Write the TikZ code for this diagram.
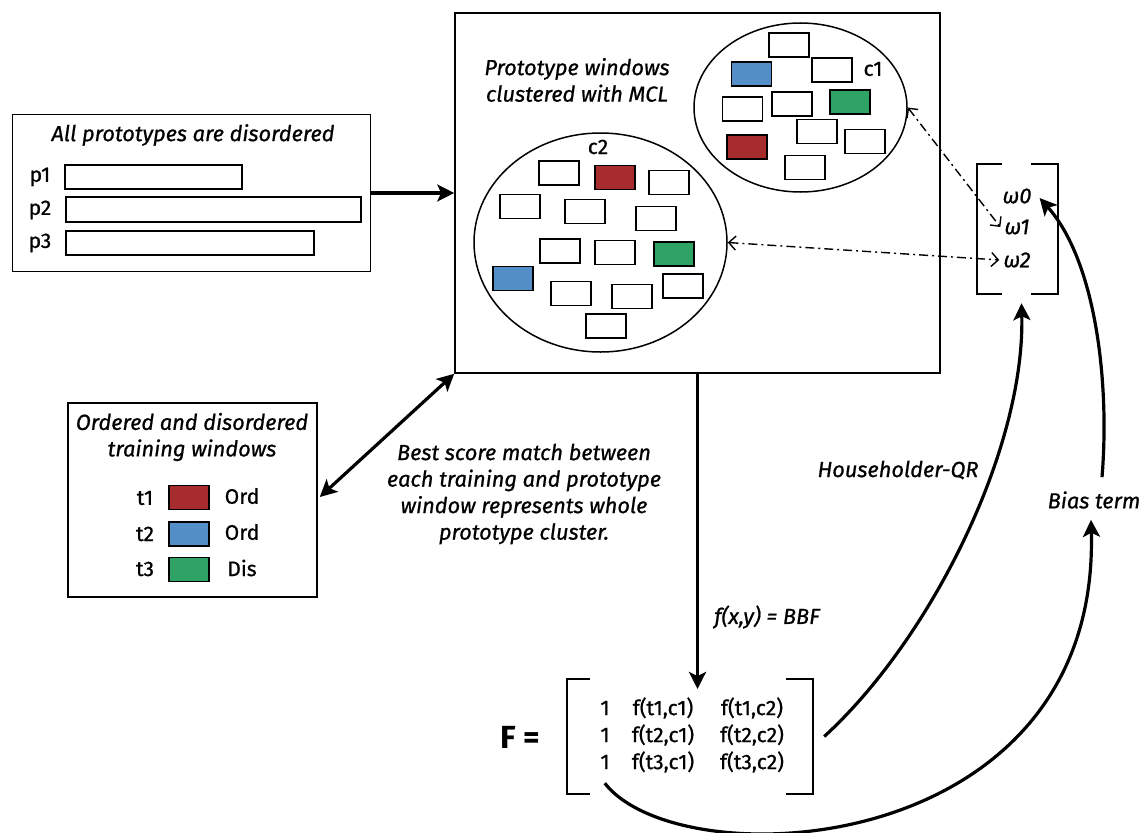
\documentclass[tikz,border=0pt]{standalone}
\usepackage{fontspec}
\setmainfont{Fira Sans}[UprightFeatures={FakeBold=0.8},ItalicFeatures={FakeBold=0.8}]
\usetikzlibrary{arrows.meta,shapes.geometric,calc}
\definecolor{ordred}{RGB}{166,44,46}
\definecolor{ordblue}{RGB}{84,142,199}
\definecolor{disgreen}{RGB}{47,163,102}
\newcommand{\txtsize}[2]{\fontsize{#1}{#2}\selectfont}
\begin{document}
\begin{tikzpicture}[x=1pt,y=-1pt,
  panel/.style={draw,line width=1.6pt,inner sep=0pt},
  winbox/.style={draw,line width=1.5pt,minimum width=40pt,minimum height=24pt,inner sep=0pt},
  protobar/.style={draw,line width=1.3pt,inner sep=0pt},
  cluster/.style={draw,ellipse,line width=1.5pt,inner sep=0pt},
  plain/.style={inner sep=0pt,font=\txtsize{21}{27}},
  note/.style={inner sep=0pt,font=\txtsize{21.8}{26.5}\itshape,align=center},
  bigarrow/.style={line width=3.2pt,-{Stealth[length=17pt,width=17pt,inset=4pt]}},
  linkarrow/.style={line width=1.4pt,dash pattern=on 9pt off 4pt on 2pt off 4pt,
    {Straight Barb[length=7pt,width=14pt]}-{Straight Barb[length=7pt,width=14pt]}},
]
\useasboundingbox (0,0) rectangle (1142,832);

% ---- prototypes panel ----
\node[panel,minimum width=358pt,minimum height=157pt] (protos) at (191.5,193) {};
\node[note] (protostitle) at (193,135) {All prototypes are disordered};
\node[protobar,minimum width=177pt,minimum height=24pt] (bar1) at (153.5,177) {};
\node[protobar,minimum width=295pt,minimum height=25pt] (bar2) at (213.5,209.5) {};
\node[protobar,minimum width=248pt,minimum height=24pt] (bar3) at (190,243) {};
\node[plain] (p1) at (40,177) {p1};
\node[plain] (p2) at (40,210) {p2};
\node[plain] (p3) at (40,243) {p3};

% ---- clustering panel ----
\node[panel,minimum width=485pt,minimum height=360pt] (main) at (697.5,193) {};
\node[note] (mcl) at (577,80) {Prototype windows\\clustered with MCL};
\node[cluster,minimum width=213pt,minimum height=169pt] (c1) at (800.5,107.5) {};
\node[cluster,minimum width=253pt,minimum height=219pt] (c2) at (600.5,242.5) {};
\node[plain] (c1lbl) at (873,69) {c1};
\node[plain] (c2lbl) at (598,147) {c2};
\foreach \x/\y/\c/\n in {
  789/45/white/ca1, 751.5/74/ordblue/ca2, 832/70/white/ca3, 742.5/109/white/ca4,
  792/104/white/ca5, 850/102/disgreen/ca6, 817/131.5/white/ca7, 865/141.5/white/ca8,
  747/147/ordred/ca9, 805/167.5/white/ca10}
  \node[winbox,fill=\c] (\n) at (\x,\y) {};
\foreach \x/\y/\c/\n in {
  559/173/white/cb1, 615/177.5/ordred/cb2, 669/182.5/white/cb3, 520/206.5/white/cb4,
  585/211.5/white/cb5, 656/218.5/white/cb6, 560/251/white/cb7, 615/252.5/white/cb8,
  674/254/disgreen/cb9, 513/278.5/ordblue/cb10, 571/293.5/white/cb11,
  632/296.5/white/cb12, 683/286/white/cb13, 606/326/white/cb14}
  \node[winbox,fill=\c] (\n) at (\x,\y) {};

% ---- weight vector ----
\node[minimum width=81pt,minimum height=130pt,inner sep=0pt] (wvec) at (1017.5,229) {};
\draw[line width=1.6pt] ($(wvec.north west)+(25,0)$) -- (wvec.north west)
  -- (wvec.south west) -- ++(25,0);
\draw[line width=1.6pt] ($(wvec.north east)+(-27,0)$) -- (wvec.north east)
  -- (wvec.south east) -- ++(-27,0);
\node[note,inner sep=4pt] (w0) at (1017,196) {ω0};
\node[note,inner sep=4pt] (w1) at (1017,227) {ω1};
\node[note,inner sep=4pt] (w2) at (1017,260) {ω2};

% ---- training windows panel ----
\node[panel,minimum width=249pt,minimum height=194pt] (train) at (192.5,500) {};
\node[note] (traintitle) at (192,437) {Ordered and disordered\\training windows};
\node[winbox,fill=ordred] (t1box) at (189,497.5) {};
\node[winbox,fill=ordblue] (t2box) at (189,534) {};
\node[winbox,fill=disgreen] (t3box) at (189,569.5) {};
\node[plain] (t1) at (145,498) {t1};
\node[plain] (t2) at (145,534) {t2};
\node[plain] (t3) at (145,569) {t3};
\node[plain] (o1) at (242,496) {Ord};
\node[plain] (o2) at (242,532) {Ord};
\node[plain] (o3) at (242,568) {Dis};

\node[note] (match) at (524,494) {Best score match between\\each training and prototype\\window represents whole\\prototype cluster.};

% ---- feature matrix ----
\node[minimum width=246pt,minimum height=115pt,inner sep=0pt] (Fbox) at (690,736.5) {};
\draw[line width=1.6pt] ($(Fbox.north west)+(23,0)$) -- (Fbox.north west)
  -- (Fbox.south west) -- ++(23,0);
\draw[line width=1.6pt] ($(Fbox.north east)+(-27,0)$) -- (Fbox.north east)
  -- (Fbox.south east) -- ++(-27,0);
\node[inner sep=0pt,font=\txtsize{32}{32}\bfseries] (Flbl) at (520,737) {F =};
\node[plain,align=center] (col1) at (605,735) {1\\1\\1};
\node[plain,align=center] (col2) at (663,735) {f(t1,c1)\\f(t2,c1)\\f(t3,c1)};
\node[plain,align=center] (col3) at (752,735) {f(t1,c2)\\f(t2,c2)\\f(t3,c2)};
\coordinate (Fin) at (697.5,689);

\node[note] (bbf) at (767,617) {f(x,y) = BBF};
\node[note] (hqr) at (898,470) {Householder-QR};
\node[note] (bias) at (1094,500) {Bias term};

% ---- connectors ----
\draw[bigarrow] (protos.east) -- (main.west);
\draw[line width=3.2pt,{Stealth[length=17pt,width=17pt,inset=4pt]}-{Stealth[length=17pt,width=17pt,inset=4pt]}]
  (main.south west) -- ($(train.east)+(2,-3)$);
\draw[bigarrow] (main.south) -- (Fin);
\draw[linkarrow] (c1.east) -- (w1.west);
\draw[linkarrow] (c2.east) -- (w2.west);
\draw[bigarrow] ($(Fbox.east)+(11,0)$) .. controls (930,640) and (1025,450) .. ($(wvec.south)+(4,9)$);
\draw[bigarrow] ($(Fbox.south west)+(38,-11)$) .. controls (680,880) and (1100,860) .. ($(bias.south)+(-3,11)$);
\draw[bigarrow] ($(bias.north)+(8,-14)$) .. controls (1110,380) and (1095,260) .. ($(w0.east)+(4,2)$);
\end{tikzpicture}
\end{document}
